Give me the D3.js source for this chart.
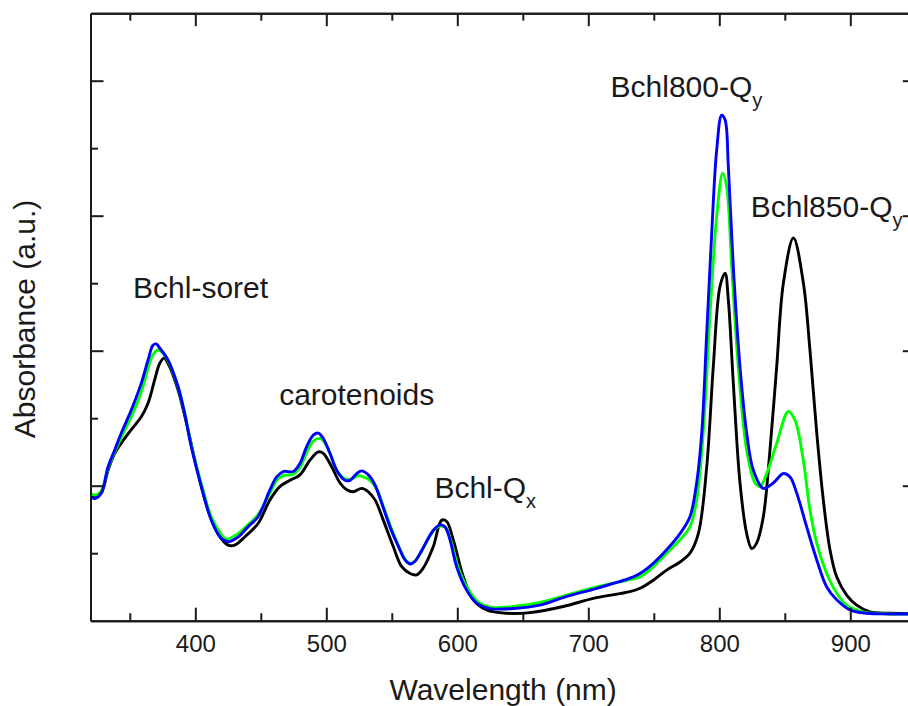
<!DOCTYPE html>
<html>
<head>
<meta charset="utf-8">
<script src="https://cdnjs.cloudflare.com/ajax/libs/d3/7.8.5/d3.min.js"></script>
<style>
  body { margin: 0; background: #fff; }
  svg { display: block; font-family: Arial, "Liberation Sans", sans-serif; }
</style>
</head>
<body>
<div id="chart"></div>
<script>
// spectra: [wavelength (nm), absorbance (a.u.)]
var blackSeries = [[320,0.183],[323.2,0.183],[328.2,0.189],[333.4,0.223],[338.5,0.248],[343.5,0.263],[351.1,0.283],[358.8,0.302],[363.9,0.322],[369.0,0.357],[372.8,0.381],[376.1,0.389],[379.2,0.381],[386.8,0.342],[394.4,0.283],[402.1,0.218],[409.7,0.164],[417.3,0.129],[425.0,0.112],[430.1,0.112],[437.7,0.124],[447.9,0.144],[457.0,0.179],[464.7,0.199],[472.3,0.208],[479.9,0.216],[487.6,0.238],[493.9,0.250],[497.7,0.248],[504.1,0.228],[510.5,0.204],[515.6,0.194],[520.6,0.191],[527.0,0.196],[532.1,0.191],[537.2,0.179],[543.5,0.149],[551.1,0.110],[557.6,0.080],[563.9,0.070],[569.0,0.068],[574.0,0.078],[581.7,0.110],[588.1,0.149],[591.9,0.147],[596.9,0.120],[604.6,0.065],[612.2,0.031],[622.4,0.016],[637.7,0.011],[655.5,0.012],[680.9,0.021],[703.8,0.033],[731.8,0.043],[739.5,0.048],[749.6,0.060],[759.8,0.075],[770.0,0.087],[777.6,0.100],[784.0,0.129],[790.4,0.228],[795.4,0.376],[800.5,0.495],[804.4,0.515],[806.9,0.475],[810.7,0.352],[815.8,0.204],[820.9,0.129],[824.7,0.107],[828.5,0.115],[833.6,0.154],[838.7,0.253],[843.8,0.376],[848.9,0.500],[856.6,0.567],[864.2,0.500],[869.2,0.401],[874.4,0.278],[879.4,0.179],[884.5,0.105],[889.6,0.065],[897.2,0.038],[904.9,0.023],[915.0,0.013],[930,0.011],[950,0.011]];

var greenSeries = [[320,0.189],[323.2,0.186],[328.2,0.192],[333.4,0.226],[338.5,0.250],[343.5,0.272],[351.1,0.302],[358.8,0.339],[363.9,0.374],[367.7,0.394],[371.5,0.401],[374.6,0.398],[379.2,0.385],[386.8,0.346],[391.9,0.308],[396.9,0.260],[404.6,0.203],[412.2,0.154],[419.8,0.128],[423.4,0.121],[432.6,0.129],[440.2,0.142],[447.9,0.157],[457.0,0.189],[462.1,0.208],[467.2,0.215],[474.8,0.217],[479.9,0.227],[485.0,0.249],[490.1,0.266],[495.2,0.270],[499.0,0.263],[503.6,0.244],[508.2,0.222],[514.3,0.210],[519.6,0.210],[524.2,0.215],[528.2,0.213],[533.4,0.208],[538.7,0.194],[544.0,0.167],[550.2,0.134],[556.3,0.106],[561.4,0.088],[565.4,0.085],[570.0,0.094],[581.7,0.133],[586.8,0.140],[591.0,0.138],[595.2,0.118],[600.5,0.080],[608.2,0.047],[615.8,0.028],[625.0,0.020],[642.7,0.021],[663.1,0.027],[683.5,0.038],[706.4,0.050],[731.8,0.061],[739.5,0.065],[749.6,0.080],[759.8,0.100],[770.0,0.120],[777.6,0.139],[782.7,0.179],[787.7,0.278],[792.8,0.450],[798.0,0.599],[802.6,0.663],[805.6,0.643],[809.5,0.524],[814.5,0.376],[820.9,0.253],[827.3,0.204],[831.1,0.199],[836.2,0.218],[843.8,0.263],[852.7,0.310],[857.8,0.297],[864.1,0.238],[869.2,0.164],[874.4,0.115],[882.0,0.070],[889.6,0.041],[897.2,0.023],[909.9,0.013],[930,0.010],[950,0.010]];

var blueSeries = [[320,0.183],[323.2,0.181],[328.2,0.189],[333.4,0.228],[338.5,0.253],[343.5,0.278],[351.1,0.312],[358.8,0.352],[363.9,0.386],[367.7,0.408],[370.2,0.410],[372.8,0.404],[379.2,0.386],[386.8,0.347],[391.9,0.307],[396.9,0.258],[404.6,0.199],[412.2,0.149],[419.8,0.122],[425.0,0.117],[432.6,0.124],[440.2,0.139],[447.9,0.154],[457.0,0.194],[462.1,0.213],[467.2,0.221],[474.8,0.221],[479.9,0.233],[485.0,0.258],[490.1,0.275],[493.9,0.278],[497.7,0.270],[502.8,0.248],[507.9,0.223],[514.3,0.208],[518.1,0.208],[523.2,0.218],[527.0,0.222],[532.1,0.216],[537.2,0.201],[542.3,0.174],[548.6,0.139],[555.0,0.110],[560.1,0.090],[563.9,0.084],[567.7,0.088],[572.5,0.103],[581.7,0.134],[586.8,0.142],[590.6,0.139],[594.4,0.120],[599.5,0.080],[607.2,0.045],[614.8,0.026],[625.0,0.018],[642.7,0.018],[663.1,0.023],[683.5,0.036],[706.4,0.048],[731.8,0.063],[739.5,0.070],[749.6,0.085],[759.8,0.105],[770.0,0.129],[777.6,0.154],[782.7,0.204],[786.6,0.278],[790.4,0.426],[794.2,0.574],[798.0,0.697],[801.8,0.749],[804.4,0.742],[806.9,0.673],[810.7,0.524],[815.8,0.376],[820.9,0.278],[826.0,0.223],[833.6,0.196],[841.2,0.204],[848.9,0.218],[854.0,0.213],[859.1,0.189],[866.7,0.139],[874.4,0.090],[882.0,0.050],[889.6,0.031],[899.8,0.016],[912.5,0.011],[930,0.010],[950,0.010]];

var seriesColors = ["#000000", "#00ff00", "#0000ff"];

// tick values
var xMajorTicks = [400, 500, 600, 700, 800, 900];
var xMinorTicks = [350, 450, 550, 650, 750, 850];
var yMajorTicks = [0.2, 0.4, 0.6, 0.8];
var yMinorTicks = [0.1, 0.3, 0.5, 0.7];

// peak labels: text, subscript, wavelength, absorbance (where the text starts)
var peakLabels = [
    { text: "Bchl-soret", sub: "", wl: 352.5, abs: 0.478 },
    { text: "carotenoids", sub: "", wl: 464, abs: 0.320 },
    { text: "Bchl-Q", sub: "x", wl: 582.5, abs: 0.182 },
    { text: "Bchl800-Q", sub: "y", wl: 717, abs: 0.776 },
    { text: "Bchl850-Q", sub: "y", wl: 824, abs: 0.598 }
];

var width = 908, height = 706;

var svg = d3.select("#chart")
    .append("svg")
    .attr("width", width)
    .attr("height", height);

// scales (the frame runs past the right edge of the picture)
var x = d3.scaleLinear().domain([320, 950]).range([90.5, 915.8]);
var y = d3.scaleLinear().domain([0, 0.9]).range([620.7, 13.2]);

svg.append("clipPath")
    .attr("id", "plotclip")
    .append("rect")
    .attr("x", x(320))
    .attr("y", y(0.9))
    .attr("width", x(950) - x(320))
    .attr("height", y(0) - y(0.9));

// curves
var line = d3.line()
    .x(function (d) { return x(d[0]); })
    .y(function (d) { return y(d[1]); })
    .curve(d3.curveCatmullRom.alpha(0.5));

var curves = svg.append("g").attr("clip-path", "url(#plotclip)");
[blackSeries, greenSeries, blueSeries].forEach(function (s, i) {
    curves.append("path")
        .datum(s)
        .attr("d", line)
        .attr("fill", "none")
        .attr("stroke", seriesColors[i])
        .attr("stroke-width", 2.9)
        .attr("stroke-linejoin", "round");
});

// axes, ticks point inward
function styleAxis(g) {
    g.selectAll(".domain").attr("stroke", "#1a1a1a").attr("stroke-width", 2);
    g.selectAll(".tick line").attr("stroke", "#1a1a1a").attr("stroke-width", 2);
}

var xBottom = d3.axisBottom(x).tickValues(xMajorTicks).tickSize(-13).tickSizeOuter(0).tickPadding(14);
var gx = svg.append("g")
    .attr("transform", "translate(0," + y(0) + ")")
    .call(xBottom)
    .call(styleAxis);
gx.selectAll("text")
    .attr("font-size", 24)
    .attr("font-family", "Arial, 'Liberation Sans', sans-serif")
    .attr("fill", "#1a1a1a");

svg.append("g")
    .attr("transform", "translate(0," + y(0) + ")")
    .call(d3.axisBottom(x).tickValues(xMinorTicks).tickSize(-7.5).tickSizeOuter(0).tickFormat(""))
    .call(styleAxis);

svg.append("g")
    .attr("transform", "translate(0," + y(0.9) + ")")
    .call(d3.axisTop(x).tickValues(xMajorTicks).tickSize(-13).tickSizeOuter(0).tickFormat(""))
    .call(styleAxis);
svg.append("g")
    .attr("transform", "translate(0," + y(0.9) + ")")
    .call(d3.axisTop(x).tickValues(xMinorTicks).tickSize(-7.5).tickSizeOuter(0).tickFormat(""))
    .call(styleAxis);

svg.append("g")
    .attr("transform", "translate(" + x(320) + ",0)")
    .call(d3.axisLeft(y).tickValues(yMajorTicks).tickSize(-13).tickSizeOuter(0).tickFormat(""))
    .call(styleAxis);
svg.append("g")
    .attr("transform", "translate(" + x(320) + ",0)")
    .call(d3.axisLeft(y).tickValues(yMinorTicks).tickSize(-7.5).tickSizeOuter(0).tickFormat(""))
    .call(styleAxis);

svg.append("g")
    .attr("transform", "translate(" + x(950) + ",0)")
    .call(d3.axisRight(y).tickValues(yMajorTicks).tickSize(-13).tickSizeOuter(0).tickFormat(""))
    .call(styleAxis);
svg.append("g")
    .attr("transform", "translate(" + x(950) + ",0)")
    .call(d3.axisRight(y).tickValues(yMinorTicks).tickSize(-7.5).tickSizeOuter(0).tickFormat(""))
    .call(styleAxis);

// axis titles
svg.append("text")
    .attr("x", (x(320) + x(950)) / 2)
    .attr("y", 699.5)
    .attr("text-anchor", "middle")
    .attr("font-size", 30)
    .attr("fill", "#1a1a1a")
    .text("Wavelength (nm)");

svg.append("text")
    .attr("transform", "translate(35," + 319 + ") rotate(-90)")
    .attr("text-anchor", "middle")
    .attr("font-size", 30)
    .attr("fill", "#1a1a1a")
    .text("Absorbance (a.u.)");

// peak labels
peakLabels.forEach(function (p) {
    var t = svg.append("text")
        .attr("x", x(p.wl))
        .attr("y", y(p.abs))
        .attr("font-size", 30)
        .attr("fill", "#1a1a1a");
    t.append("tspan").text(p.text);
    if (p.sub) {
        t.append("tspan")
            .attr("dy", 10)
            .attr("font-size", 20)
            .text(p.sub);
    }
});
</script>
</body>
</html>
